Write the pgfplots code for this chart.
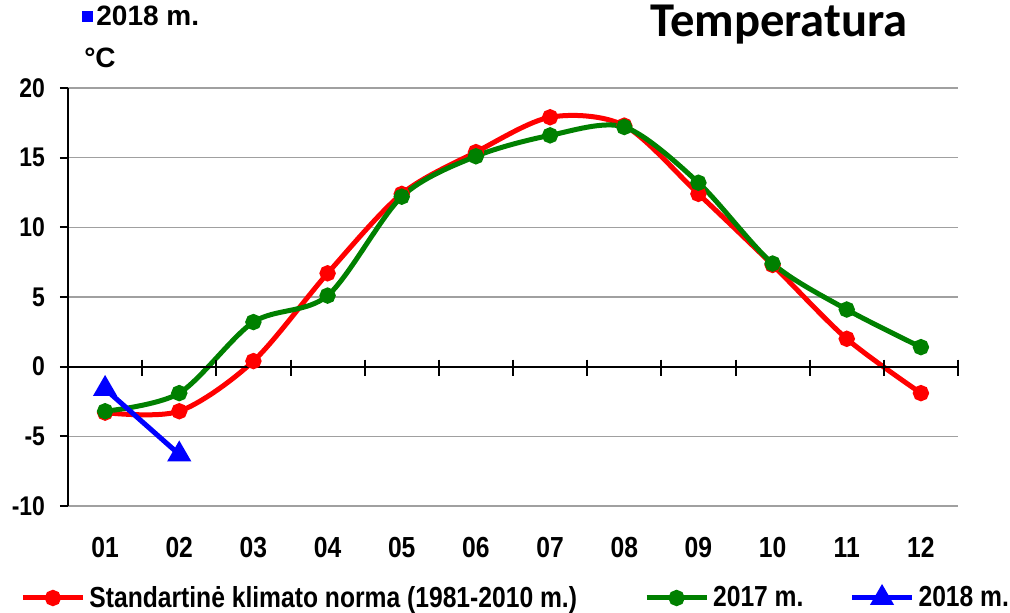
\documentclass[border=0pt]{standalone}
\usepackage{fontspec}
\setmainfont{Liberation Sans}[FakeStretch=0.85]
\newfontfamily\widefont{Liberation Sans}
\newfontfamily\titlefont{Carlito}
\usepackage{pgfplots}
\pgfplotsset{compat=1.18}
\definecolor{gridgray}{RGB}{160,160,160}
\definecolor{cred}{RGB}{255,0,0}
\definecolor{cgreen}{RGB}{0,128,0}
\definecolor{cblue}{RGB}{0,0,255}
\begin{document}
\begin{tikzpicture}
\begin{axis}[
  scale only axis, width=445pt, height=209pt,
  at={(0,0)}, anchor=south west,
  xmin=0.5, xmax=12.5, ymin=-10, ymax=20,
  axis x line*=bottom,
  axis y line*=left,
  y axis line style={black, line width=1pt},
  x axis line style={draw=none},
  xtick={1,...,12},
  xticklabels={01,02,03,04,05,06,07,08,09,10,11,12},
  xticklabel style={font=\bfseries\fontsize{14.5}{14.5}\selectfont, yshift=-8pt},
  x tick style={draw=none},
  ytick={-10,-5,0,5,10,15,20},
  yticklabels={-10,-5,0,5,10,15,20},
  tick align=outside,
  major tick length=4pt,
  y tick style={black, line width=1pt},
  yticklabel style={font=\bfseries\fontsize{13.5}{13.5}\selectfont, xshift=-4pt},
  ymajorgrids, grid style={gridgray, line width=0.8pt},
  clip=false,
  legend columns=3,
  legend style={draw=none, fill=none, at={(-24pt,-46pt)}, anchor=west,
    font=\bfseries\fontsize{14.5}{14.5}\selectfont, inner sep=0pt,
    /tikz/column 2/.style={column sep=31.5pt},
    /tikz/column 4/.style={column sep=21pt}},
  legend cell align=left,
  legend image code/.code={\draw[mark repeat=2,mark phase=2] plot coordinates {(0pt,0pt) (15pt,0pt) (30pt,0pt)};},
]
\addplot[cred, line width=2.5pt, smooth, tension=0.5, mark=*, mark size=2.8pt] coordinates {
(1,-3.3) (2,-3.2) (3,0.4) (4,6.7) (5,12.4) (6,15.4) (7,17.9) (8,17.3) (9,12.4) (10,7.3) (11,2.0) (12,-1.9)};
\addlegendentry{Standartinė klimato norma (1981-2010 m.)}
\addplot[cgreen, line width=2.5pt, smooth, tension=0.5, mark=*, mark size=2.8pt] coordinates {
(1,-3.2) (2,-1.9) (3,3.2) (4,5.1) (5,12.2) (6,15.1) (7,16.6) (8,17.2) (9,13.2) (10,7.4) (11,4.1) (12,1.4)};
\addlegendentry{2017 m.}
\addplot[cblue, line width=2.5pt, mark=triangle*, mark size=4.5pt] coordinates {
(1,-1.6) (2,-6.3)};
\addlegendentry{2018 m.}
\draw[black, line width=1pt] (axis cs:0.5,0) -- (axis cs:12.5,0);
\pgfplotsinvokeforeach{1.5,2.5,...,12.5}{
  \draw[black, line width=1pt] ([yshift=3.5pt]axis cs:#1,0) -- ([yshift=-4.5pt]axis cs:#1,0);
}
\end{axis}
\fill[cblue] (7pt,242pt) rectangle (12.5pt,247.5pt);
\node[anchor=west, font=\widefont\bfseries\fontsize{14}{14}\selectfont, inner sep=0pt] at (14pt,245pt) {2018 m.};
\node[anchor=center, font=\widefont\bfseries\fontsize{14}{14}\selectfont, inner sep=0pt] at (16pt,224pt) {°C};
\node[anchor=base west, font=\titlefont\bfseries\fontsize{24.3}{24.3}\selectfont, inner sep=0pt] at (291pt,234.5pt) {Temperatura};
\pgfresetboundingbox
\path (-34pt,-53.5pt) rectangle (471pt,253pt);
\end{tikzpicture}
\end{document}
